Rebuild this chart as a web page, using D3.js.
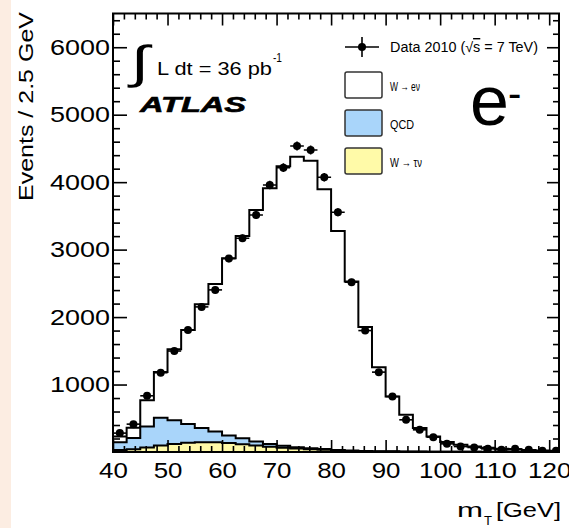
<!DOCTYPE html>
<html>
<head>
<meta charset="utf-8">
<script src="https://cdn.jsdelivr.net/npm/d3@7"></script>
<style>
  html, body { margin: 0; padding: 0; background: #fff; }
  svg { display: block; }
  text { font-family: "Liberation Sans", Arial, Helvetica, sans-serif; fill: #000; }
</style>
</head>
<body>
<script>
// lower edge of each 2.5 GeV bin (last bin is cut by the frame)
const binLow = [40, 42.5, 45, 47.5, 50, 52.5, 55, 57.5, 60, 62.5, 65, 67.5, 70, 72.5, 75, 77.5,
  80, 82.5, 85, 87.5, 90, 92.5, 95, 97.5, 100, 102.5, 105, 107.5, 110, 112.5, 115, 117.5, 120];
const binWidth = 2.5;

// Data 2010, events per bin
const data2010 = [280, 413, 833, 1175, 1497, 1810, 2151, 2403, 2867, 3169, 3514, 3958, 4215, 4536, 4477, 4072,
  3554, 2517, 1800, 1184, 822, 477, 329, 220, 121, 81, 67, 47, 33, 47, 33, 18, 18];

// stacked MC: W -> tau nu (bottom), QCD, W -> e nu (top)
const wtaunu = [30, 42, 68, 95, 120, 138, 145, 145, 135, 115, 95, 78, 64, 52, 42, 33,
  22, 15, 11, 8, 6, 5, 4, 3, 2, 2, 2, 1, 1, 1, 1, 1, 1];
const qcd = [115, 164, 310, 412, 350, 277, 209, 159, 109, 88, 61, 39, 28, 18, 15, 10,
  8, 7, 5, 4, 4, 3, 2, 2, 2, 1, 1, 1, 1, 1, 0, 0, 0];
const wenu = [85, 154, 390, 678, 1054, 1395, 1837, 2188, 2628, 3000, 3432, 3793, 4145, 4308, 4262, 3852,
  3247, 2504, 1836, 1246, 812, 543, 348, 225, 143, 104, 77, 60, 46, 36, 29, 23, 19];

const xMajor = [40, 50, 60, 70, 80, 90, 100, 110, 120];
const yMajor = [1000, 2000, 3000, 4000, 5000, 6000];

const W = 569, H = 528;
const plotL = 113, plotR = 559, plotT = 13.5, plotB = 452;

const svg = d3.select("body").append("svg").attr("width", W).attr("height", H);

// page strip on the left
svg.append("rect").attr("x", 0).attr("y", 0).attr("width", 11).attr("height", H).attr("fill", "#fcede2");

const x = d3.scaleLinear().domain([40, 121.8]).range([plotL, plotR]);
const y = d3.scaleLinear().domain([0, 6500]).range([plotB, plotT]);

svg.append("clipPath").attr("id", "plot")
  .append("rect").attr("x", plotL).attr("y", plotT).attr("width", plotR - plotL).attr("height", plotB - plotT);

const tauTop = wtaunu;
const bkgTop = wtaunu.map((v, i) => v + qcd[i]);
const totTop = bkgTop.map((v, i) => v + wenu[i]);

function stepPath(vals) {
  let p = `M${x(binLow[0])},${y(0)}`;
  vals.forEach((v, i) => { p += `L${x(binLow[i])},${y(v)}L${x(binLow[i] + binWidth)},${y(v)}`; });
  p += `L${x(binLow[vals.length - 1] + binWidth)},${y(0)}Z`;
  return p;
}

const g = svg.append("g").attr("clip-path", "url(#plot)");
const stack = [
  { vals: totTop, fill: "#ffffff" },
  { vals: bkgTop, fill: "#a9d5fa" },
  { vals: tauTop, fill: "#fffaa8" }
];
g.selectAll("path.h").data(stack).join("path")
  .attr("class", "h")
  .attr("d", d => stepPath(d.vals))
  .attr("fill", d => d.fill)
  .attr("stroke", "#000")
  .attr("stroke-width", 2)
  .attr("stroke-linejoin", "miter");

// axes, ticks inside the frame
function minorTicks(lo, hi, step) {
  const t = [];
  for (let v = lo; v <= hi + 1e-9; v += step) t.push(+v.toFixed(3));
  return t;
}
const xMinor = minorTicks(40, 121.8, 2).filter(v => !xMajor.includes(v));
const yMinor = minorTicks(0, 6500, 200).filter(v => !yMajor.includes(v) && v !== 0);

function styleAxis(sel) {
  sel.select(".domain").remove();
  sel.selectAll("line").attr("stroke", "#000").attr("stroke-width", 1.6);
}

svg.append("g").attr("transform", `translate(0,${plotB})`)
  .call(d3.axisBottom(x).tickValues(xMajor).tickSize(-12).tickPadding(10.5).tickFormat(d3.format("d")))
  .call(styleAxis)
  .call(s => s.selectAll("text")
    .attr("font-size", 22)
    .attr("font-family", "Liberation Sans, Arial, sans-serif")
    .attr("fill", "#000")
    .attr("textLength", d => String(d).length * 14.4)
    .attr("lengthAdjust", "spacingAndGlyphs"));
svg.append("g").attr("transform", `translate(0,${plotB})`)
  .call(d3.axisBottom(x).tickValues(xMinor).tickSize(-6).tickFormat(""))
  .call(styleAxis);
svg.append("g").attr("transform", `translate(0,${plotT})`)
  .call(d3.axisTop(x).tickValues(xMajor).tickSize(-12).tickFormat(""))
  .call(styleAxis);
svg.append("g").attr("transform", `translate(0,${plotT})`)
  .call(d3.axisTop(x).tickValues(xMinor).tickSize(-6).tickFormat(""))
  .call(styleAxis);

svg.append("g").attr("transform", `translate(${plotL},0)`)
  .call(d3.axisLeft(y).tickValues(yMajor).tickSize(-14).tickPadding(3).tickFormat(d3.format("d")))
  .call(styleAxis)
  .call(s => s.selectAll("text")
    .attr("font-size", 22)
    .attr("font-family", "Liberation Sans, Arial, sans-serif")
    .attr("fill", "#000")
    .attr("textLength", 60)
    .attr("lengthAdjust", "spacingAndGlyphs"));
svg.append("g").attr("transform", `translate(${plotL},0)`)
  .call(d3.axisLeft(y).tickValues(yMinor).tickSize(-7).tickFormat(""))
  .call(styleAxis);
svg.append("g").attr("transform", `translate(${plotR},0)`)
  .call(d3.axisRight(y).tickValues(yMajor).tickSize(-12).tickFormat(""))
  .call(styleAxis);
svg.append("g").attr("transform", `translate(${plotR},0)`)
  .call(d3.axisRight(y).tickValues(yMinor).tickSize(-6).tickFormat(""))
  .call(styleAxis);

// frame
svg.append("rect").attr("x", plotL).attr("y", plotT).attr("width", plotR - plotL).attr("height", plotB - plotT)
  .attr("fill", "none").attr("stroke", "#000").attr("stroke-width", 2);

// data points with error bars
const pts = svg.append("g").attr("clip-path", "url(#plot)");
data2010.forEach((v, i) => {
  const cx = x(binLow[i] + binWidth / 2), cy = y(v), err = Math.sqrt(v);
  pts.append("line").attr("x1", x(binLow[i])).attr("x2", x(binLow[i] + binWidth))
    .attr("y1", cy).attr("y2", cy).attr("stroke", "#000").attr("stroke-width", 1.6);
  pts.append("line").attr("x1", cx).attr("x2", cx)
    .attr("y1", y(v + err)).attr("y2", y(v - err)).attr("stroke", "#000").attr("stroke-width", 1.6);
  pts.append("circle").attr("cx", cx).attr("cy", cy).attr("r", 4).attr("fill", "#000");
});

// axis titles
svg.append("text")
  .attr("transform", "translate(33,12) rotate(-90)")
  .attr("text-anchor", "end")
  .attr("font-size", 21)
  .attr("textLength", 189).attr("lengthAdjust", "spacingAndGlyphs")
  .text("Events / 2.5 GeV");

svg.append("text").attr("x", 457).attr("y", 517).attr("font-size", 20)
  .attr("textLength", 26).attr("lengthAdjust", "spacingAndGlyphs").text("m");
svg.append("text").attr("x", 484).attr("y", 525).attr("font-size", 13)
  .attr("textLength", 8).attr("lengthAdjust", "spacingAndGlyphs").text("T");
svg.append("text").attr("x", 496).attr("y", 517).attr("font-size", 20)
  .attr("textLength", 65).attr("lengthAdjust", "spacingAndGlyphs").text("[GeV]");

// luminosity and ATLAS label
svg.append("text").attr("transform", "translate(131,78) scale(1.45,1)").attr("font-size", 46)
  .attr("font-family", "DejaVu Sans").text("∫");
svg.append("text").attr("x", 157).attr("y", 75).attr("font-size", 19)
  .attr("textLength", 115).attr("lengthAdjust", "spacingAndGlyphs").text("L dt = 36 pb");
svg.append("text").attr("x", 273).attr("y", 62).attr("font-size", 12)
  .attr("textLength", 9).attr("lengthAdjust", "spacingAndGlyphs").text("-1");
svg.append("text").attr("x", 140).attr("y", 112).attr("font-size", 21.5)
  .attr("font-weight", "bold").attr("font-style", "italic")
  .attr("stroke", "#000").attr("stroke-width", 0.6)
  .attr("textLength", 106).attr("lengthAdjust", "spacingAndGlyphs").text("ATLAS");

// channel label: e with superscript minus in one text
const chan = svg.append("text").attr("x", 470).attr("y", 125).attr("font-size", 70);
chan.append("tspan").text("e");
chan.append("tspan").attr("font-size", 40).attr("dx", -1).attr("dy", -18).text("-");

// legend
const lg = svg.append("g");
lg.append("line").attr("x1", 345).attr("x2", 379).attr("y1", 47).attr("y2", 47).attr("stroke", "#000").attr("stroke-width", 1.6);
lg.append("line").attr("x1", 362).attr("x2", 362).attr("y1", 37).attr("y2", 57).attr("stroke", "#000").attr("stroke-width", 1.6);
lg.append("circle").attr("cx", 362).attr("cy", 47).attr("r", 4).attr("fill", "#000");
const dataLabel = lg.append("text").attr("x", 390).attr("y", 52).attr("font-size", 14)
  .attr("textLength", 148).attr("lengthAdjust", "spacingAndGlyphs");
dataLabel.append("tspan").text("Data 2010 (√");
dataLabel.append("tspan").attr("text-decoration", "overline").text("s");
dataLabel.append("tspan").text(" = 7 TeV)");

const legendItems = [
  { label: "W → eν", fill: "#ffffff", y0: 72, len: 30 },
  { label: "QCD", fill: "#a9d5fa", y0: 110, len: 24 },
  { label: "W → τν", fill: "#fffaa8", y0: 148, len: 32 }
];
legendItems.forEach(d => {
  lg.append("rect").attr("x", 345).attr("y", d.y0).attr("width", 37).attr("height", 26).attr("rx", 2)
    .attr("fill", d.fill).attr("stroke", "#333").attr("stroke-width", 1.5);
  lg.append("text").attr("x", 390).attr("y", d.y0 + 18.5).attr("font-size", 13.5)
    .attr("textLength", d.len).attr("lengthAdjust", "spacingAndGlyphs").text(d.label);
});
</script>
</body>
</html>
